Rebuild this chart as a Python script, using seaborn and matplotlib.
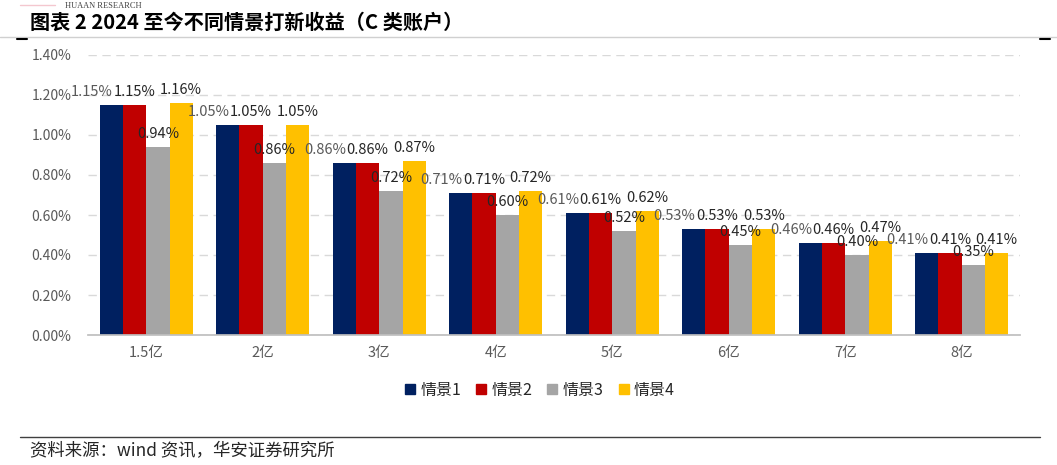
import numpy as np
import pandas as pd
import matplotlib
matplotlib.use("Agg")
import matplotlib.pyplot as plt
import seaborn as sns
from matplotlib.lines import Line2D

categories = ["1.5亿", "2亿", "3亿", "4亿", "5亿", "6亿", "7亿", "8亿"]
series_names = ["情景1", "情景2", "情景3", "情景4"]
s1 = [1.15, 1.05, 0.86, 0.71, 0.61, 0.53, 0.46, 0.41]
s2 = [1.15, 1.05, 0.86, 0.71, 0.61, 0.53, 0.46, 0.41]
s3 = [0.94, 0.86, 0.72, 0.60, 0.52, 0.45, 0.40, 0.35]
s4 = [1.16, 1.05, 0.87, 0.72, 0.62, 0.53, 0.47, 0.41]
yticks = [0.0, 0.2, 0.4, 0.6, 0.8, 1.0, 1.2, 1.4]

colors = ["#002060", "#C00000", "#A5A5A5", "#FFC000"]

sns.set_theme(style="white")
plt.rcParams['font.family'] = ['Noto Sans CJK SC', 'DejaVu Sans']

df = pd.DataFrame({
    "cat": categories * 4,
    "series": np.repeat(series_names, len(categories)),
    "value": s1 + s2 + s3 + s4,
})

fig = plt.figure(figsize=(10.57, 4.65), dpi=100)
ax = fig.add_axes([88 / 1057, 1 - 335 / 465, (1020 - 88) / 1057, 280 / 465])

sns.barplot(data=df, x="cat", y="value", hue="series", palette=colors,
            width=0.8, ax=ax, legend=False, saturation=1, linewidth=0)

ax.set_ylim(0, 1.4)
ax.set_yticks(yticks)
ax.set_yticklabels([f"{v:.2f}%" for v in yticks], color="#595959", fontsize=10)
ax.tick_params(axis="x", colors="#595959", labelsize=10.5, length=0, pad=8)
ax.tick_params(axis="y", length=0, pad=12)
ax.set_xlabel("")
ax.set_ylabel("")
ax.yaxis.grid(True, color="#D9D9D9", linestyle=(0, (6, 4)), linewidth=1)
ax.set_axisbelow(True)
for sp in ["top", "right", "left"]:
    ax.spines[sp].set_visible(False)
ax.spines["bottom"].set_color("#BFBFBF")
ax.set_xlim(-0.5, len(categories) - 0.5)

# data labels
for i, cont in enumerate(ax.containers):
    for bar in cont:
        h = bar.get_height()
        x = bar.get_x() + bar.get_width() / 2
        dx = -14 if i == 0 else 0
        ax.annotate(f"{h:.2f}%", (x, h), xytext=(dx, 4), textcoords="offset points",
                    ha="center", va="bottom", fontsize=10.5,
                    color="#595959" if i == 0 else "#262626")

handles = [Line2D([0], [0], marker="s", linestyle="", markersize=7,
                  markerfacecolor=c, markeredgecolor=c) for c in colors]
fig.legend(handles, series_names, loc="center", bbox_to_anchor=(538 / 1057, 1 - 390 / 465),
           ncol=4, frameon=False, fontsize=11.5, handletextpad=0.1, columnspacing=0.7,
           handlelength=1.1, labelcolor="#262626")

# header and footer
fig.text(65 / 1057, 1 - 6 / 465, "HUAAN RESEARCH", fontsize=6, color="#404040",
         va="center", family="Liberation Serif")
fig.add_artist(Line2D([20 / 1057, 55 / 1057], [1 - 5 / 465, 1 - 5 / 465], color="#F4C7CF", lw=1))
fig.text(30 / 1057, 1 - 22 / 465, "图表 2 2024 至今不同情景打新收益（C 类账户）",
         fontsize=14.5, fontweight="bold", color="black", va="center")
fig.add_artist(Line2D([0, 1], [1 - 37 / 465, 1 - 37 / 465], color="#D0D0D0", lw=1))
fig.add_artist(Line2D([17 / 1057, 27 / 1057], [1 - 39 / 465, 1 - 39 / 465], color="black", lw=1.5))
fig.add_artist(Line2D([1040 / 1057, 1050 / 1057], [1 - 39 / 465, 1 - 39 / 465], color="black", lw=1.5))
fig.add_artist(Line2D([20 / 1057, 1040 / 1057], [1 - 437 / 465, 1 - 437 / 465], color="#404040", lw=1))
fig.text(30 / 1057, 1 - 451 / 465, "资料来源：wind 资讯，华安证券研究所", fontsize=12.5,
         color="#262626", va="center")

fig.savefig("out.png", dpi=100)
